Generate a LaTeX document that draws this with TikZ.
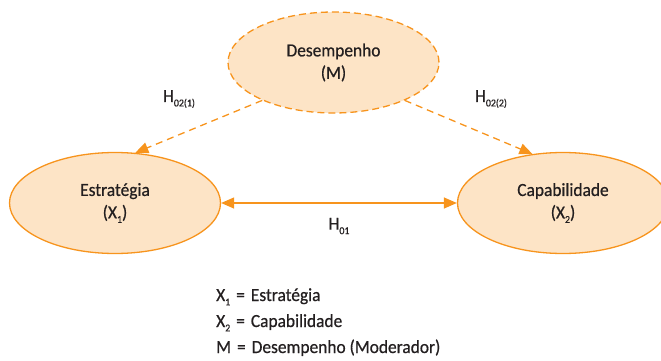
\documentclass[tikz,border=0pt]{standalone}
\usepackage{fontspec}
\setmainfont{Carlito}[FakeStretch=0.94, FakeBold=0.6]
\usetikzlibrary{arrows.meta,shapes.geometric}
\definecolor{ofill}{HTML}{FDE4C6}
\definecolor{oline}{HTML}{F7941D}
\definecolor{txt}{HTML}{231F20}
\newcommand{\lsub}[1]{\raisebox{-0.5ex}{\fontsize{10.5}{10.5}\selectfont #1}}
\newcommand{\eqsp}{\hspace{6pt}=\hspace{6pt}}
\tikzset{
  ell/.style={ellipse, draw=oline, fill=ofill, line width=1.3pt, minimum width=211pt, minimum height=101pt, inner sep=0pt, align=center, text=txt, font=\fontsize{18.5}{22.5}\selectfont},
  dashell/.style={ell, dash pattern=on 7pt off 4pt},
  dasharrow/.style={draw=oline, line width=1.3pt, dash pattern=on 7pt off 5pt, -{Triangle[length=13pt,width=11pt]}},
  solidarrow/.style={draw=oline, line width=1.3pt, {Triangle[length=13pt,width=11pt]}-{Triangle[length=13pt,width=11pt]}},
  lbl/.style={text=txt, inner sep=0pt, font=\fontsize{18.5}{22}\selectfont},
  legend/.style={text=txt, inner sep=0pt, anchor=base west, font=\fontsize{18.5}{22}\selectfont}
}
\begin{document}
\begin{tikzpicture}[x=1pt,y=-1pt]
\useasboundingbox (0,0) rectangle (661,361);
\clip (0,0) rectangle (661,361);
\node[dashell] (M) at (333.5,62.5) {Desempenho\\(M)};
\node[ell] (X1) at (115,203) {Estratégia\\(X\lsub{1})};
\node[ell] (X2) at (563,203) {Capabilidade\\(X\lsub{2})};
\draw[dasharrow] (M.208) -- (X1.68);
\draw[dasharrow] (M.-28) -- (X2.122);
\draw[solidarrow] (X1.east) -- (X2.west);
\node[lbl] (h1) at (179,99) {H\lsub{02(1)}};
\node[lbl] (h2) at (491,99) {H\lsub{02(2)}};
\node[lbl] (h0) at (339,226) {H\lsub{01}};
\node[legend] (l1) at (216,301) {X\lsub{1}\eqsp Estratégia};
\node[legend] (l2) at (216,327) {X\lsub{2}\eqsp Capabilidade};
\node[legend] (l3) at (216,353) {M\eqsp Desempenho (Moderador)};
\end{tikzpicture}
\end{document}
